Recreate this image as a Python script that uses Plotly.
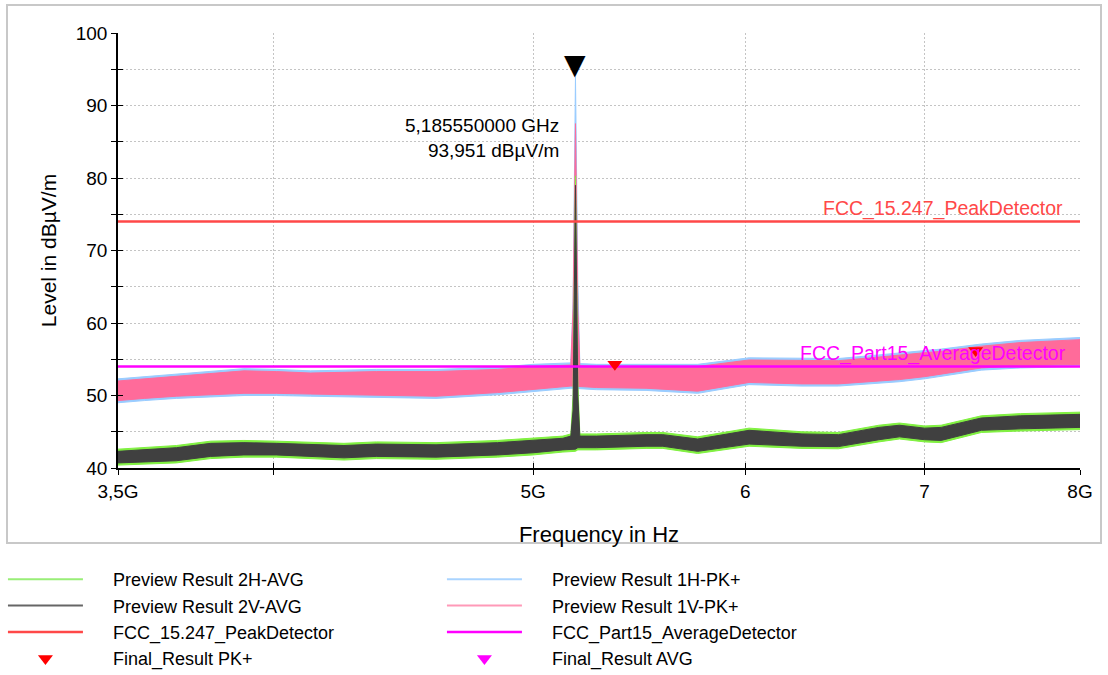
import math
import plotly.graph_objects as go

# ---------------- data ----------------
FREQ_GHZ = [3.50, 3.58, 3.68, 3.79, 3.90, 4.01, 4.13, 4.25, 4.37, 4.60, 4.85, 5.00, 5.13, 5.165,
            5.175, 5.1856, 5.196, 5.205, 5.28, 5.51, 5.59, 5.76, 6.02, 6.30, 6.50, 6.73, 6.85,
            7.00, 7.10, 7.35, 7.60, 8.00]

# Preview Result 1V-PK+ (pink) envelope
PK1V_HI = [52.0, 52.3, 52.6, 53.0, 53.4, 53.3, 53.1, 53.2, 53.3, 53.3, 53.6, 54.0, 54.1, 54.2,
           62.0, 87.5, 62.0, 54.1, 54.0, 54.0, 54.0, 54.0, 54.9, 54.8, 54.8, 55.3, 55.6,
           55.9, 56.1, 56.8, 57.3, 57.7]
PK1V_LO = [49.3, 49.6, 49.9, 50.1, 50.3, 50.3, 50.2, 50.1, 50.0, 49.9, 50.4, 50.8, 51.2, 51.3,
           51.3, 51.3, 51.3, 51.3, 51.1, 51.0, 50.9, 50.6, 51.8, 51.6, 51.6, 52.0, 52.2,
           52.6, 52.9, 53.8, 54.1, 54.3]

# Preview Result 1H-PK+ (light blue) envelope
PK1H_HI = [52.3, 52.6, 52.9, 53.3, 53.7, 53.6, 53.4, 53.5, 53.6, 53.6, 53.9, 54.3, 54.4, 54.5,
           63.0, 93.95, 66.0, 54.4, 54.3, 54.3, 54.3, 54.3, 55.2, 55.1, 55.1, 55.6, 55.9,
           56.2, 56.4, 57.1, 57.6, 58.0]
PK1H_LO = [49.0, 49.3, 49.6, 49.8, 50.0, 50.0, 49.9, 49.8, 49.7, 49.6, 50.1, 50.5, 50.9, 51.0,
           51.0, 51.0, 51.0, 51.0, 50.8, 50.7, 50.6, 50.3, 51.5, 51.3, 51.3, 51.7, 51.9,
           52.3, 52.6, 53.5, 53.8, 54.0]

# Preview Result 2V-AVG (dark grey) envelope
AV2V_HI = [42.3, 42.5, 42.8, 43.4, 43.5, 43.4, 43.2, 43.1, 43.3, 43.2, 43.5, 43.8, 44.1, 44.4,
           48.0, 79.0, 50.0, 44.4, 44.4, 44.6, 44.6, 44.0, 45.2, 44.7, 44.6, 45.6, 45.9,
           45.5, 45.6, 46.9, 47.2, 47.4]
AV2V_LO = [40.7, 40.8, 41.0, 41.6, 41.8, 41.8, 41.6, 41.4, 41.6, 41.5, 41.8, 42.1, 42.5, 42.6,
           42.6, 42.6, 42.8, 42.8, 42.8, 43.0, 43.0, 42.3, 43.3, 43.0, 42.95, 43.9, 44.3,
           43.9, 43.8, 45.2, 45.4, 45.6]

# Preview Result 2H-AVG (green) envelope
AV2H_HI = [42.6, 42.8, 43.1, 43.7, 43.8, 43.7, 43.5, 43.4, 43.6, 43.5, 43.8, 44.1, 44.4, 44.7,
           50.0, 80.3, 52.0, 44.7, 44.7, 44.9, 44.9, 44.3, 45.5, 45.0, 44.9, 45.9, 46.2,
           45.8, 45.9, 47.2, 47.5, 47.7]
AV2H_LO = [40.4, 40.5, 40.7, 41.3, 41.5, 41.5, 41.3, 41.1, 41.3, 41.2, 41.5, 41.8, 42.2, 42.3,
           42.3, 42.3, 42.5, 42.5, 42.5, 42.7, 42.7, 42.0, 43.0, 42.7, 42.65, 43.6, 44.0,
           43.6, 43.5, 44.9, 45.1, 45.3]

LIMIT_FREQ_GHZ = [3.5, 8.0]
PEAK_LIMIT = [74.0, 74.0]
AVG_LIMIT = [54.0, 54.0]

FINAL_PK_FREQ_GHZ = [5.364, 7.314]
FINAL_PK_LEVEL = [54.3, 56.2]

PEAK_FREQ_GHZ = 5.18555
PEAK_LEVEL = 93.951

X_TICK_GHZ = [3.5, 4, 5, 6, 7, 8]
X_TICK_TEXT = ["3,5G", "", "5G", "6", "7", "8G"]

# ---------------- styling ----------------
C_GREEN = "#80f040"
C_DARK = "#404040"
C_BLUE = "#99ccff"
C_PINK = "#ff6b9a"
C_RED = "#ff4848"
C_MAG = "#ff00ff"
FONT = "Arial, Liberation Sans, sans-serif"
PAD = "\u00a0" * 5

hz = lambda arr: [v * 1e9 for v in arr]

fig = go.Figure()


def band(hi, lo, color):
    xs = hz(FREQ_GHZ) + hz(FREQ_GHZ)[::-1]
    ys = hi + lo[::-1]
    fig.add_trace(go.Scatter(x=xs, y=ys, fill="toself", fillcolor=color, mode="lines",
                             line=dict(color=color, width=1), showlegend=False,
                             hoverinfo="skip"))


band(PK1H_HI, PK1H_LO, C_BLUE)
band(PK1V_HI, PK1V_LO, C_PINK)
band(AV2H_HI, AV2H_LO, C_GREEN)
band(AV2V_HI, AV2V_LO, C_DARK)

fig.add_trace(go.Scatter(x=hz(LIMIT_FREQ_GHZ), y=PEAK_LIMIT, mode="lines",
                         line=dict(color=C_RED, width=2.5), name=PAD + "FCC_15.247_PeakDetector",
                         legendrank=5))
fig.add_trace(go.Scatter(x=hz(LIMIT_FREQ_GHZ), y=AVG_LIMIT, mode="lines",
                         line=dict(color=C_MAG, width=2.5),
                         name=PAD + "FCC_Part15_AverageDetector", legendrank=6))
fig.add_trace(go.Scatter(x=hz(FINAL_PK_FREQ_GHZ), y=FINAL_PK_LEVEL, mode="markers",
                         marker=dict(symbol="triangle-down", size=13, color="#ff0000"),
                         name=PAD + "Final_Result PK+", legendrank=7))
fig.add_trace(go.Scatter(x=[None], y=[None], mode="markers",
                         marker=dict(symbol="triangle-down", size=13, color=C_MAG),
                         name=PAD + "Final_Result AVG", legendrank=8))

# legend entries for the preview traces (drawn as lines)
for nm, col, rk in [("Preview Result 2H-AVG", "#99ee77", 1), ("Preview Result 1H-PK+", "#aad4ff", 2),
                    ("Preview Result 2V-AVG", "#666666", 3), ("Preview Result 1V-PK+", "#ff99b8", 4)]:
    fig.add_trace(go.Scatter(x=[None], y=[None], mode="lines", line=dict(color=col, width=2),
                             name=PAD + nm, legendrank=rk))

# overlay axes for inward ticks
fig.add_trace(go.Scatter(x=hz(LIMIT_FREQ_GHZ), y=AVG_LIMIT, xaxis="x2", yaxis="y2",
                         mode="lines", line=dict(width=0), showlegend=False, hoverinfo="skip"))

# peak marker and label (log axis -> annotation x in log10 units)
px = math.log10(PEAK_FREQ_GHZ * 1e9)
fig.add_annotation(x=px, y=PEAK_LEVEL, text="▼", showarrow=False,
                   xanchor="center", yanchor="bottom", yshift=-6,
                   font=dict(family="DejaVu Sans", size=28, color="black"))
fig.add_annotation(x=px, y=PEAK_LEVEL,
                   text="5,185550000 GHz<br>93,951 dBµV/m", showarrow=False,
                   xanchor="right", yanchor="middle", align="right", xshift=-14, yshift=-61,
                   font=dict(family=FONT, size=19, color="black"))
xend = math.log10(LIMIT_FREQ_GHZ[-1] * 1e9)
fig.add_annotation(x=xend, y=PEAK_LIMIT[0], text="FCC_15.247_PeakDetector", showarrow=False,
                   xanchor="right", yanchor="bottom", xshift=-15, yshift=0,
                   font=dict(family=FONT, size=19.5, color=C_RED))
fig.add_annotation(x=xend, y=AVG_LIMIT[0], text="FCC_Part15_AverageDetector", showarrow=False,
                   xanchor="right", yanchor="bottom", xshift=-12, yshift=0,
                   font=dict(family=FONT, size=19.5, color=C_MAG))

# outer frame
L, T, W, H = 118, 33, 962, 435
fig.add_shape(type="rect", xref="paper", yref="paper", layer="above",
              x0=(7 - L) / W, x1=(1101 - L) / W, y0=(T + H - 543) / H, y1=(T + H - 5) / H,
              line=dict(color="#c8c8c8", width=2))

xr = [math.log10(3.5e9), math.log10(8e9)]
grid = dict(gridcolor="#c4c4c4", griddash="2px,2px", gridwidth=1)

fig.update_layout(
    width=1108, height=675,
    margin=dict(l=118, r=28, t=33, b=207, autoexpand=False),
    paper_bgcolor="white", plot_bgcolor="white",
    font=dict(family=FONT, size=19, color="black"),
    showlegend=True,
    legend=dict(orientation="h", x=-0.1196, y=-0.2138, xanchor="left", yanchor="top",
                entrywidth=349, entrywidthmode="pixels", itemwidth=75,
                font=dict(family=FONT, size=18, color="black"), traceorder="normal",
                bgcolor="rgba(0,0,0,0)", tracegroupgap=0),
    xaxis=dict(type="log", range=xr, tickvals=hz(X_TICK_GHZ), ticktext=X_TICK_TEXT,
               ticks="outside", ticklen=5, tickcolor="black", showline=True,
               linecolor="black", linewidth=1.5, showgrid=True, zeroline=False,
               title=dict(text="Frequency in Hz", standoff=26,
                          font=dict(family=FONT, size=22, color="black")), **grid),
    yaxis=dict(range=[40, 100], dtick=10, ticks="outside", ticklen=5, tickcolor="black",
               showline=True, linecolor="black", linewidth=1.5, zeroline=False,
               showgrid=True, minor=dict(dtick=5, ticks="outside", ticklen=5,
                                         tickcolor="black", showgrid=True,
                                         gridcolor="#c4c4c4", griddash="2px,2px"),
               title=dict(text="Level in dBµV/m", standoff=13,
                          font=dict(family=FONT, size=21, color="black")), **grid),
    xaxis2=dict(type="log", range=xr, overlaying="x", tickvals=hz(X_TICK_GHZ),
                ticks="inside", ticklen=5, tickcolor="black", showticklabels=False,
                showgrid=False, zeroline=False, showline=False),
    yaxis2=dict(range=[40, 100], overlaying="y", dtick=5, ticks="inside", ticklen=5,
                tickcolor="black", showticklabels=False, showgrid=False, zeroline=False,
                showline=False),
)

fig.write_html("out.html")
